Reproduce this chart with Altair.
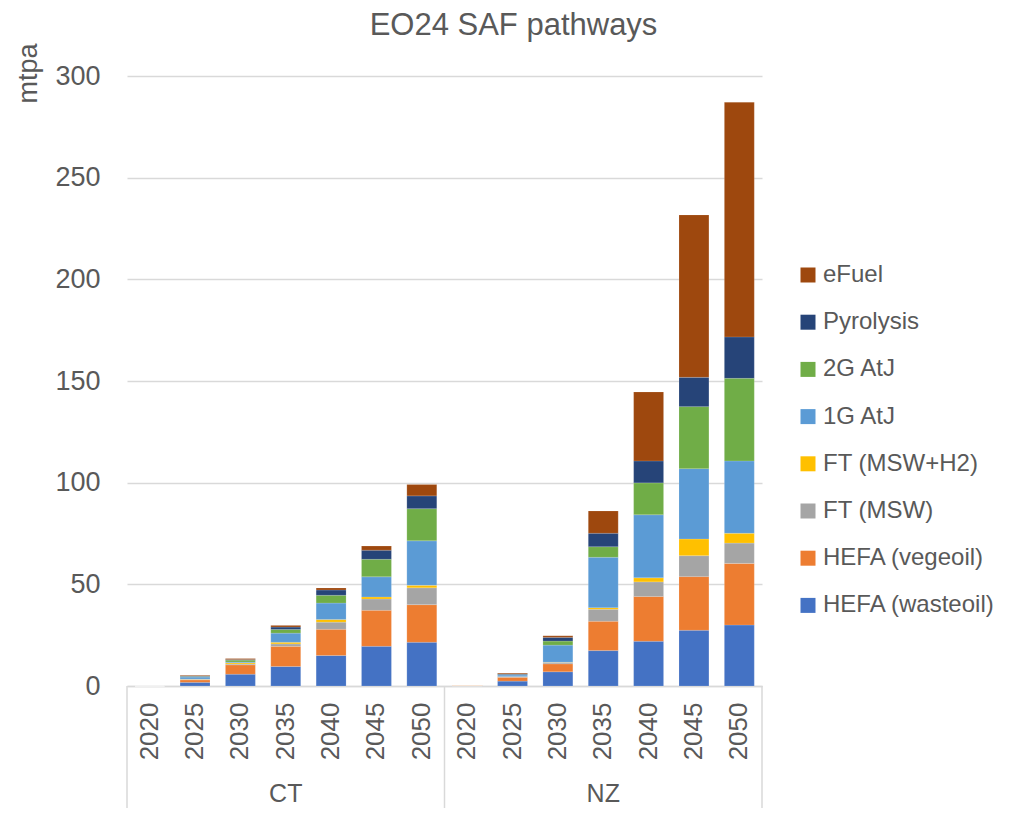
import altair as alt
import pandas as pd

FONT = "Liberation Sans"
TXT = "#595959"
GRID = "#D9D9D9"

years = ["2020", "2025", "2030", "2035", "2040", "2045", "2050"]
scenarios = ["CT", "NZ"]
pathways = ["HEFA (wasteoil)", "HEFA (vegeoil)", "FT (MSW)", "FT (MSW+H2)",
            "1G AtJ", "2G AtJ", "Pyrolysis", "eFuel"]
colors = ["#4472C4", "#ED7D31", "#A5A5A5", "#FFC000",
          "#5B9BD5", "#70AD47", "#264478", "#9E480E"]

ct_wasteoil = [0, 1.8, 5.8, 9.6, 15.0, 19.5, 21.5]
ct_vegeoil = [0, 1.2, 4.6, 9.9, 12.9, 17.7, 18.5]
ct_msw = [0, 0.3, 0.4, 1.2, 3.5, 5.6, 8.3]
ct_msw_h2 = [0, 0.1, 0.6, 0.8, 1.3, 1.0, 1.2]
ct_1g_atj = [0, 1.0, 0.4, 4.5, 8.1, 9.9, 21.9]
ct_2g_atj = [0, 0.3, 0.9, 1.8, 3.8, 8.6, 15.8]
ct_pyrolysis = [0, 0.3, 0.3, 1.2, 2.6, 4.5, 6.3]
ct_efuel = [0, 0.3, 0.5, 0.8, 1.0, 2.0, 5.6]

nz_wasteoil = [0, 2.4, 7.0, 17.4, 22.0, 27.4, 30.0]
nz_vegeoil = [0.4, 1.9, 3.9, 14.4, 22.0, 26.4, 30.3]
nz_msw = [0, 0.2, 0.7, 5.9, 7.2, 10.3, 10.0]
nz_msw_h2 = [0, 0.1, 0.1, 0.8, 2.0, 8.2, 4.8]
nz_1g_atj = [0, 0.8, 8.4, 24.8, 31.0, 34.6, 35.6]
nz_2g_atj = [0, 0.2, 2.0, 5.2, 15.7, 30.5, 40.6]
nz_pyrolysis = [0, 0.4, 1.8, 6.6, 10.8, 14.4, 20.4]
nz_efuel = [0, 0.4, 0.8, 11.0, 33.9, 79.9, 115.4]

series = {
    "CT": [ct_wasteoil, ct_vegeoil, ct_msw, ct_msw_h2, ct_1g_atj, ct_2g_atj, ct_pyrolysis, ct_efuel],
    "NZ": [nz_wasteoil, nz_vegeoil, nz_msw, nz_msw_h2, nz_1g_atj, nz_2g_atj, nz_pyrolysis, nz_efuel],
}

rows = []
for sc in scenarios:
    for i, p in enumerate(pathways):
        for yr, v in zip(years, series[sc][i]):
            rows.append({"key": f"{sc}|{yr}", "scenario": sc, "year": yr,
                         "pathway": p, "order": i, "value": v})
df = pd.DataFrame(rows)
keys = [f"{s}|{y}" for s in scenarios for y in years]

W, H = 635, 610
BOTTOM = 122

xscale = alt.Scale(domain=keys, paddingInner=0.34, paddingOuter=0.17)

bars = alt.Chart(df).mark_bar(stroke="white", strokeWidth=0.5, strokeOpacity=0.3).encode(
    x=alt.X("key:N", scale=xscale, sort=keys,
            axis=alt.Axis(title=None, labelExpr="split(datum.value, '|')[1]",
                          labelAngle=270, labelFontSize=26, labelPadding=16,
                          ticks=False, domainColor=GRID, domainWidth=1.5)),
    y=alt.Y("value:Q", stack="zero", scale=alt.Scale(domain=[0, 300]),
            axis=alt.Axis(values=[0, 50, 100, 150, 200, 250, 300], title="mtpa",
                          grid=True, gridColor=GRID, gridWidth=1.5, domain=False,
                          ticks=False, labelPadding=27, labelFontSize=27,
                          titleFontSize=27, titleFontWeight="normal", titleAngle=270,
                          titleX=-99, titleY=-3, titleAlign="center",
                          titleBaseline="middle")),
    color=alt.Color("pathway:N",
                    scale=alt.Scale(domain=pathways[::-1], range=colors[::-1]),
                    legend=alt.Legend(title=None, orient="none", legendX=669, legendY=187,
                                      symbolType="square", symbolSize=225,
                                      symbolStrokeWidth=0, labelFontSize=24,
                                      labelOffset=3, rowPadding=23.2, padding=0,
                                      labelLimit=400,
                                      labelColor=TXT, labelFont=FONT)),
    order=alt.Order("order:Q", sort="ascending"),
)

groups = pd.DataFrame({"key": ["CT|2035", "NZ|2035"], "label": ["CT", "NZ"]})
group_text = alt.Chart(groups).mark_text(fontSize=25, color=TXT, font=FONT,
                                         align="center", baseline="middle").encode(
    x=alt.X("key:N", scale=xscale, sort=keys),
    y=alt.value(H + 108),
    text="label:N",
)

one = pd.DataFrame({"a": [0]})
rules = [
    alt.Chart(one).mark_rule(color=GRID, strokeWidth=1.5).encode(
        x=alt.value(px), y=alt.value(H), y2=alt.value(H + BOTTOM))
    for px in (0, W / 2, W)
]

chart = alt.layer(bars, group_text, *rules).properties(
    width=W, height=H,
    title=alt.TitleParams("EO24 SAF pathways", fontSize=31, color=TXT, font=FONT,
                          fontWeight="normal", anchor="middle", dx=69, dy=20, offset=6,
                          baseline="middle"),
    autosize=alt.AutoSizeParams(type="none"),
    padding={"left": 119, "top": 68, "right": 250, "bottom": BOTTOM},
).configure(font=FONT).configure_view(strokeWidth=0).configure_axis(
    labelColor=TXT, titleColor=TXT, labelFont=FONT, titleFont=FONT
)

chart.save("out.html", embed_options={"renderer": "svg", "actions": False})
